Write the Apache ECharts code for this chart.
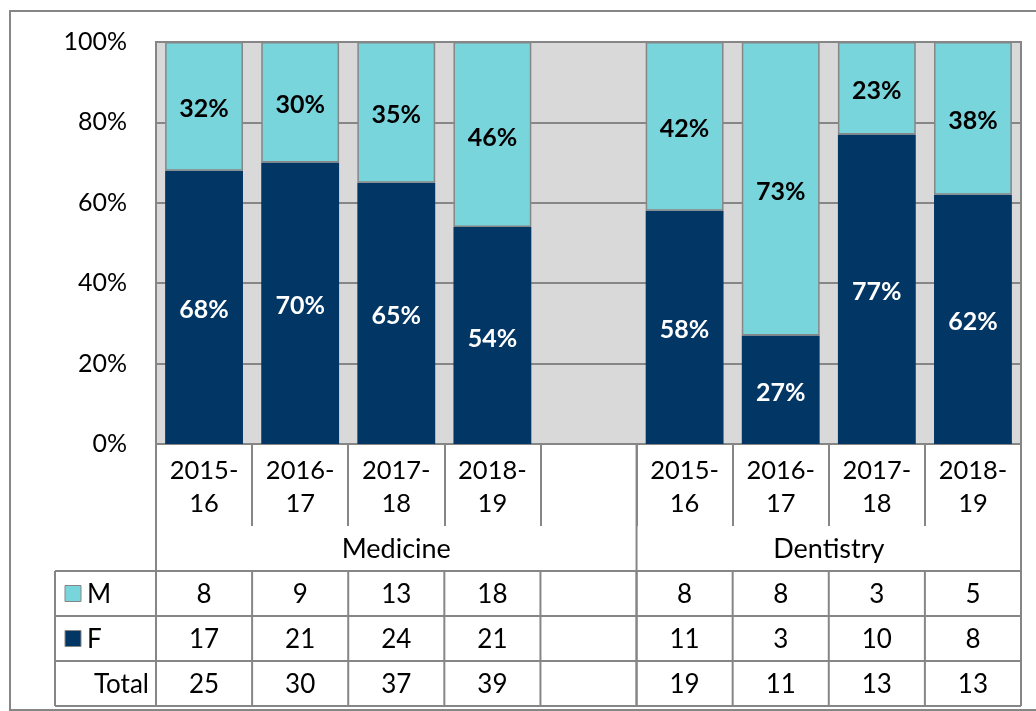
<!DOCTYPE html>
<html><head><meta charset="utf-8">
<script src="https://cdn.jsdelivr.net/npm/echarts@6/dist/echarts.min.js"></script>
<style>html,body{margin:0;padding:0;background:#fff}#c{width:1036px;height:711px}</style>
</head><body><div id="c"></div>
<script>
const categories = ['2015-\n16','2016-\n17','2017-\n18','2018-\n19','','2015-\n16','2016-\n17','2017-\n18','2018-\n19'];
const groupNames = ['Medicine','Dentistry'];
const groupRanges = [[0,4],[5,8]];
const femalePct = [68,70,65,54,null,58,27,77,62];
const malePct   = [32,30,35,46,null,42,73,23,38];
const maleCount   = [8,9,13,18,null,8,8,3,5];
const femaleCount = [17,21,24,21,null,11,3,10,8];
const totalCount  = [25,30,37,39,null,19,11,13,13];
const rowNames = ['M','F','Total'];

const FONT = 'Lato';
const LIGHT = '#79D5DC';
const DARK = '#023664';
const GREY = '#868686';

const chart = echarts.init(document.getElementById('c'), null, {renderer:'canvas'});
chart.setOption({
  animation:false,
  textStyle:{fontFamily:FONT},
  grid:{left:156,right:15,top:42,bottom:267,show:true,backgroundColor:'#D9D9D9',borderColor:GREY,borderWidth:2},
  xAxis:{type:'category',data:categories,
    axisLine:{show:true,lineStyle:{color:GREY,width:2}},
    axisTick:{show:true,length:82,interval:0,lineStyle:{color:GREY,width:2}},
    axisLabel:{interval:0,fontSize:25.5,lineHeight:33,color:'#000',margin:10,fontFamily:FONT}},
  yAxis:{type:'value',min:0,max:100,interval:20,
    axisLabel:{formatter:'{value}%',fontSize:25,color:'#000',margin:29,fontFamily:FONT},
    axisLine:{show:false},axisTick:{show:false},
    splitLine:{lineStyle:{color:GREY,width:2}}},
  series:[
    {name:'F',type:'bar',stack:'a',data:femalePct,barCategoryGap:'19%',
     itemStyle:{color:DARK},
     label:{show:true,position:'inside',offset:[0,3],formatter:'{c}%',color:'#fff',fontWeight:'bold',fontSize:25,fontFamily:FONT}},
    {name:'M',type:'bar',stack:'a',data:malePct,barCategoryGap:'19%',
     itemStyle:{color:LIGHT,borderColor:GREY,borderWidth:1.5},
     label:{show:true,position:'inside',offset:[0,3],formatter:'{c}%',color:'#000',fontWeight:'bold',fontSize:25,fontFamily:FONT}}
  ]
});

// build data table from axis geometry
const c0 = chart.convertToPixel({xAxisIndex:0},0);
const c1 = chart.convertToPixel({xAxisIndex:0},1);
const bw = c1 - c0;
const n = categories.length;
const bound = i => c0 - bw/2 + i*bw;
const y0 = chart.convertToPixel({yAxisIndex:0},0);
const xL = bound(0), xR = bound(n);
const yearBottom = y0 + 82;
const groupBottom = y0 + 127;
const rowH = 45;
const tableLeft = 55;
const g = [];
const line = (x1,y1,x2,y2)=>g.push({type:'line',shape:{x1,y1,x2,y2},style:{stroke:GREY,lineWidth:2},silent:true});
const txt = (x,y,t,align,size)=>g.push({type:'text',x,y,style:{text:t,fill:'#000',font:(size||26)+'px '+FONT,textAlign:align||'center',textVerticalAlign:'middle'},silent:true});

// outer chart border
g.push({type:'rect',shape:{x:10,y:11,width:1040,height:699},style:{fill:null,stroke:GREY,lineWidth:2},silent:true});
// left/right verticals through table
line(xL,y0,xL,groupBottom+3*rowH);
line(xR,y0,xR,groupBottom+3*rowH);
// group separators
groupRanges.forEach((r,k)=>{
  if(k>0) line(bound(r[0]),y0,bound(r[0]),groupBottom+3*rowH);
  txt((bound(r[0])+bound(r[1]+1))/2,(yearBottom+groupBottom)/2+1,groupNames[k],'center',27);
});
// horizontal table lines
for(let r=0;r<=3;r++) line(tableLeft,groupBottom+r*rowH,xR,groupBottom+r*rowH);
line(tableLeft,groupBottom,tableLeft,groupBottom+3*rowH);
for(let i=1;i<n;i++) line(bound(i),groupBottom,bound(i),groupBottom+3*rowH);
// values
const rows=[maleCount,femaleCount,totalCount];
rows.forEach((arr,r)=>{
  const yc=groupBottom+r*rowH+rowH/2+1;
  arr.forEach((v,i)=>{ if(v!==null) txt(c0+i*bw,yc,String(v)); });
});
// row headers
const keyColors=[LIGHT,DARK];
[0,1].forEach(r=>{
  const yc=groupBottom+r*rowH+rowH/2;
  g.push({type:'rect',shape:{x:65,y:yc-8,width:16,height:16},style:{fill:keyColors[r],stroke:GREY,lineWidth:1},silent:true});
  txt(87,yc+1,rowNames[r],'left');
});
txt(xL-7,groupBottom+2*rowH+rowH/2+1,rowNames[2],'right');
chart.setOption({graphic:g});
</script></body></html>
